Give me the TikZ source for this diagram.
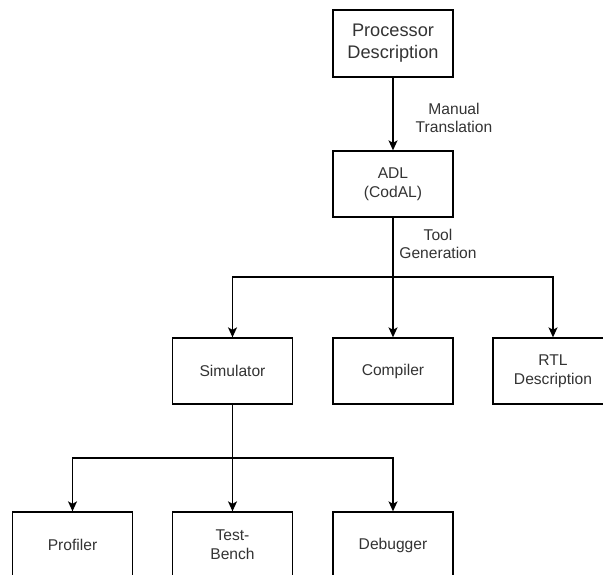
\documentclass[tikz,border=0pt]{standalone}
\usepackage{fontspec}
\setmainfont{Liberation Sans}
\usetikzlibrary{arrows.meta}
\definecolor{txt}{HTML}{333333}
\tikzset{
  box/.style={draw=black, line width=1.3pt, minimum width=120pt, minimum height=66pt, inner sep=0pt, align=center, text=txt, font=\fontsize{15.6}{18.7}\selectfont},
  lbl/.style={align=center, text=txt, inner sep=0pt, font=\fontsize{15.6}{18.7}\selectfont},
  arr/.style={draw=black, line width=1.3pt, -{Stealth[length=10pt,width=9pt,inset=2.5pt]}},
  ln/.style={draw=black, line width=1.3pt}
}
\begin{document}
\begin{tikzpicture}[x=1pt,y=-1pt]
\useasboundingbox (0,0) rectangle (603,575);
\begin{scope}
\clip (0,0) rectangle (603,575);
\node[box, minimum height=67pt, font=\fontsize{18.2}{21.8}\selectfont] (proc) at (393,43.5) {Processor\\Description};
\node[box] (adl) at (393,184) {ADL\\(CodAL)};
\node[box] (sim) at (232.5,371) {Simulator};
\node[box] (comp) at (393,371) {Compiler};
\node[box] (rtl) at (553,371) {RTL\\Description};
\node[box] (prof) at (72.5,545) {Profiler};
\node[box] (tb) at (232.5,545) {Test-\\Bench};
\node[box] (dbg) at (393,545) {Debugger};
\coordinate (j1) at (393,277);
\coordinate (j2) at (232.5,458);
\draw[arr] (proc.south) -- (adl.north);
\draw[arr] (adl.south) -- (comp.north);
\draw[arr] (j1) -| (sim.north);
\draw[arr] (j1) -| (rtl.north);
\draw[arr] (sim.south) -- (tb.north);
\draw[arr] (j2) -| (prof.north);
\draw[arr] (j2) -| (dbg.north);
\node[lbl] (l1) at (454,118) {Manual\\Translation};
\node[lbl] (l2) at (438,244) {Tool\\Generation};
\end{scope}
\end{tikzpicture}
\end{document}
